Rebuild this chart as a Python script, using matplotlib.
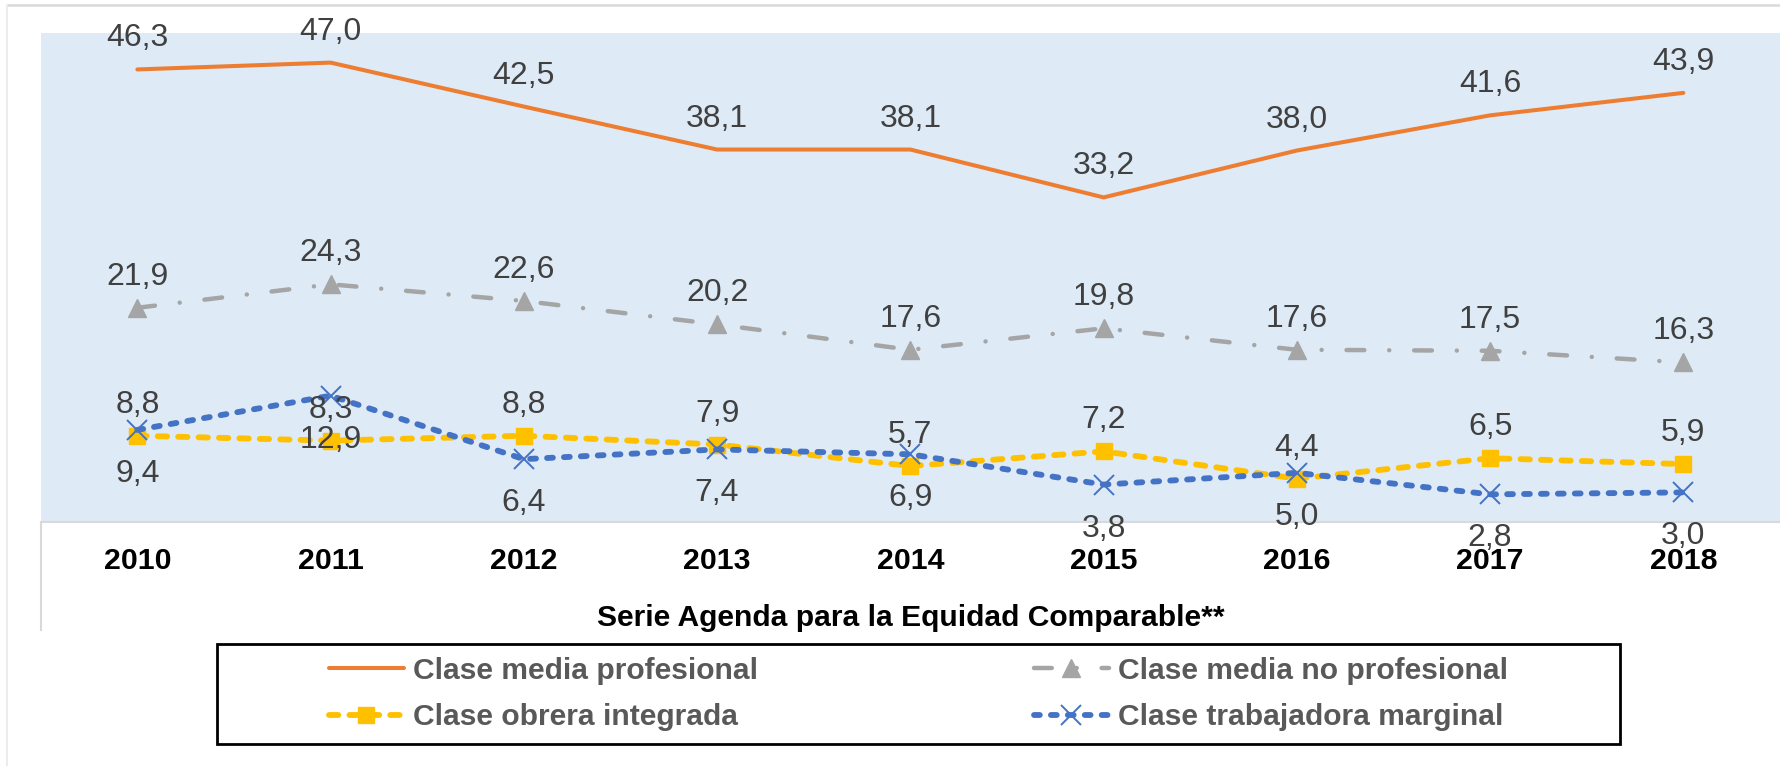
import matplotlib

matplotlib.use("Agg")
import matplotlib.pyplot as plt
from matplotlib.lines import Line2D
from matplotlib.patches import Rectangle

plt.rcParams["font.family"] = ["Liberation Sans", "DejaVu Sans"]

# datos
years = ["2010", "2011", "2012", "2013", "2014", "2015", "2016", "2017", "2018"]
media_prof = [46.3, 47.0, 42.5, 38.1, 38.1, 33.2, 38.0, 41.6, 43.9]
media_no_prof = [21.9, 24.3, 22.6, 20.2, 17.6, 19.8, 17.6, 17.5, 16.3]
obrera = [8.8, 8.3, 8.8, 7.9, 5.7, 7.2, 4.4, 6.5, 5.9]
marginal = [9.4, 12.9, 6.4, 7.4, 6.9, 3.8, 5.0, 2.8, 3.0]

W, H = 1780, 766
fig = plt.figure(figsize=(W / 100, H / 100), dpi=100)
ax = fig.add_axes((40.7 / W, 1 - 521.7 / H, 1 - 40.7 / W, (521.7 - 33.3) / H))
ax.set_facecolor("#deeaf6")

x = list(range(len(years)))

l_prof, = ax.plot(x, media_prof, color="#ed7d31", lw=2.9, solid_capstyle="round",
                  label="Clase media profesional", zorder=3)
l_noprof, = ax.plot(x, media_no_prof, color="#a5a5a5", lw=3.2,
                    linestyle=(0, (4, 5.6, 0.01, 5.6)), dash_capstyle="round",
                    marker="^", ms=13, label="Clase media no profesional", zorder=3)
l_obrera, = ax.plot(x, obrera, color="#ffc000", lw=4.2,
                    linestyle=(0, (1.6, 1.9)), dash_capstyle="round",
                    marker="s", ms=11.5, label="Clase obrera integrada", zorder=4)
l_marg, = ax.plot(x, marginal, color="#4472c4", lw=4.2,
                  linestyle=(0, (1.0, 1.9)), dash_capstyle="round",
                  marker="x", ms=14, mew=1.4, label="Clase trabajadora marginal", zorder=5)

def fmt(v):
    return f"{v:.1f}".replace(".", ",")

# etiquetas de datos: arriba para tres series, abajo para la marginal
for serie, dy in [(media_prof, 31), (media_no_prof, 31), (obrera, 31), (marginal, -44)]:
    for i, v in enumerate(serie):
        ax.annotate(fmt(v), (i, v), xytext=(0, dy), textcoords="offset pixels",
                    ha="center", va="center", fontsize=23, color="#404040", zorder=6)

ax.set_xlim(-0.5, len(years) - 0.5)
ax.set_ylim(0, 50)
ax.set_yticks([])
ax.set_xticks(x, years)
ax.tick_params(axis="x", length=0, pad=18, labelsize=21.8)
for lab in ax.get_xticklabels():
    lab.set_fontweight("bold")
for s in ["top", "right", "left"]:
    ax.spines[s].set_visible(False)
ax.spines["bottom"].set_color("#d9d9d9")
ax.spines["bottom"].set_linewidth(1.5)

ax.set_xlabel("Serie Agenda para la Equidad Comparable**", fontsize=21.6,
              fontweight="bold", color="black", labelpad=21)

# bordes del área del gráfico
fig.add_artist(Line2D([7 / W, 1], [1 - 5 / H, 1 - 5 / H], color="#d9d9d9", lw=1.8))
fig.add_artist(Line2D([7 / W, 7 / W], [0, 1 - 5 / H], color="#ececec", lw=1.5))
fig.add_artist(Line2D([40.7 / W, 40.7 / W], [1 - 521.7 / H, 1 - 630 / H],
                      color="#d9d9d9", lw=1.5))

# leyenda
handles = [l_prof, l_obrera, l_noprof, l_marg]
leg = fig.legend(handles, [h.get_label() for h in handles], loc="center",
                 bbox_to_anchor=(0.516, 0.094), ncol=2, frameon=False,
                 prop={"size": 21.6, "weight": "bold"}, labelcolor="#595959",
                 handlelength=2.5, handletextpad=0.3, columnspacing=9.2,
                 labelspacing=0.62)
fig.add_artist(Rectangle((217 / W, 1 - 744 / H), (1620 - 217) / W, 100 / H,
                         transform=fig.transFigure, fill=False, ec="black", lw=2))

fig.savefig("out.png", dpi=100)
plt.close(fig)
